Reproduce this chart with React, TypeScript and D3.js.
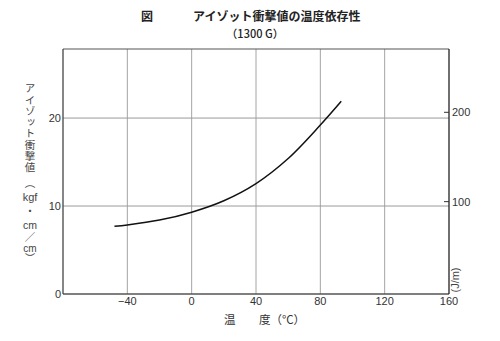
import React from "react";
import * as d3 from "d3";

const temps = [-48, -40, -20, 0, 20, 40, 60, 80, 93];
const impact = [7.7, 7.85, 8.4, 9.3, 10.6, 12.55, 15.4, 19.2, 21.9];
const xTicks = [-40, 0, 40, 80, 120, 160];
const yTicks = [0, 10, 20];
const yRightTicks = [100, 200];
const yTitleMain = "アイゾット衝撃値";

const W = 500, H = 341;
const numFont = "'Liberation Sans Narrow', 'Liberation Sans', Arial, sans-serif";
const jpFont = "'Noto Sans CJK JP', sans-serif";

export default function App() {
  const x = d3.scaleLinear().domain([-80, 160]).range([63, 449]);
  const y = d3.scaleLinear().domain([0, 27.85]).range([294, 49]);
  const yR = d3.scaleLinear().domain([0, 200]).range([291, 112.3]);
  const line = d3
    .line<number>()
    .x((_, i) => x(temps[i]))
    .y((d) => y(d))
    .curve(d3.curveCatmullRom.alpha(0.5));

  const gridColor = "#9a9a9a";
  const left = x(-80), right = x(160), top = y(27.85), bottom = y(0);
  const vert = { writingMode: "vertical-rl", textOrientation: "mixed" } as React.CSSProperties;
  const tx = 30;

  return (
    <svg width={W} height={H} style={{ position: "absolute", left: 0, top: 0, background: "#fff" }}>
      {/* title */}
      <text x={147} y={21} fontFamily={jpFont} fontSize={12} fontWeight={700} textAnchor="middle" fill="#222">図</text>
      <text x={193} y={21} fontFamily={jpFont} fontSize={12} fontWeight={700} fill="#222">アイゾット衝撃値の温度依存性</text>
      <text x={255} y={37.5} fontFamily={jpFont} fontSize={11} fontWeight={500} textAnchor="middle" fill="#222">（1300 G）</text>

      {/* grid */}
      {xTicks.filter((t) => t < 160).map((t) => (
        <line key={"gx" + t} x1={x(t)} x2={x(t)} y1={top} y2={bottom} stroke={gridColor} strokeWidth={0.9} />
      ))}
      {yTicks.filter((t) => t > 0).map((t) => (
        <line key={"gy" + t} x1={left} x2={right} y1={y(t)} y2={y(t)} stroke={gridColor} strokeWidth={1} />
      ))}

      {/* frame */}
      <line x1={left} x2={right} y1={top} y2={top} stroke="#555" strokeWidth={1.2} />
      <line x1={left} x2={right} y1={bottom} y2={bottom} stroke="#555" strokeWidth={1.4} />
      <line x1={left} x2={left} y1={top} y2={bottom} stroke="#444" strokeWidth={1.3} />
      <line x1={right} x2={right} y1={top} y2={bottom} stroke="#222" strokeWidth={1.3} />

      {/* right ticks */}
      {yRightTicks.map((t) => (
        <g key={"yr" + t}>
          <line x1={right - 5} x2={right} y1={yR(t)} y2={yR(t)} stroke="#333" strokeWidth={1} />
          <text x={right + 3} y={yR(t) + 4} fontFamily={numFont} fontSize={11} fill="#333">{t}</text>
        </g>
      ))}
      <text transform={`translate(459,280) rotate(-90)`} fontFamily={numFont} fontSize={11} textAnchor="middle" fill="#444">(J/m)</text>

      {/* left tick labels */}
      {yTicks.map((t) => (
        <text key={"yl" + t} x={left - 2} y={y(t) + 4} fontFamily={numFont} fontSize={11} textAnchor="end" fill="#333">{t}</text>
      ))}

      {/* bottom tick labels */}
      {xTicks.map((t) => (
        <text key={"xl" + t} x={x(t)} y={305} fontFamily={numFont} fontSize={11} textAnchor="middle" fill="#333">
          {t < 0 ? "−" + Math.abs(t) : t}
        </text>
      ))}

      {/* axis titles */}
      <text x={224} y={324} fontFamily={jpFont} fontSize={11.5} fill="#333">温</text>
      <text x={259} y={324} fontFamily={jpFont} fontSize={11.5} fill="#333">度（°C）</text>

      {/* vertical y title */}
      <text x={tx} y={83} fontFamily={jpFont} fontSize={10.5} fill="#444" letterSpacing={0.8} style={vert}>{yTitleMain}</text>
      <text x={tx} y={178} fontFamily={jpFont} fontSize={10.5} fill="#444" style={vert}>（</text>
      <text x={tx} y={201} fontFamily={numFont} fontSize={11} fill="#444" textAnchor="middle">kgf</text>
      <text x={tx} y={206} fontFamily={jpFont} fontSize={10.5} fill="#444" style={vert}>・</text>
      <text x={tx} y={229} fontFamily={numFont} fontSize={10.5} fill="#444" textAnchor="middle">cm</text>
      <text x={tx} y={231.5} fontFamily={jpFont} fontSize={10.5} fill="#444" style={vert}>／</text>
      <text x={tx} y={252} fontFamily={numFont} fontSize={10} fill="#444" textAnchor="middle">cm</text>
      <text x={tx} y={253} fontFamily={jpFont} fontSize={10} fill="#444" style={vert}>）</text>

      {/* curve */}
      <path d={line(impact) ?? ""} fill="none" stroke="#111" strokeWidth={1.5} />
    </svg>
  );
}
